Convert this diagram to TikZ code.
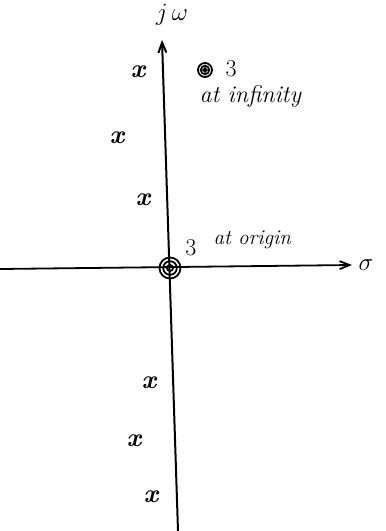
\documentclass[tikz,border=0pt]{standalone}
\usepackage{amsmath, amssymb}
\usepackage{tikz}
\usetikzlibrary{positioning,arrows.meta}

\begin{document}
\begin{tikzpicture}[x=1pt, y=-1pt, >={Straight Barb[length=10pt,width=8pt]},
    every node/.style={font=\fontsize{24}{26}\selectfont\itshape},
    pole/.style={inner sep=0pt, font=\fontsize{26}{26}\selectfont\bfseries\itshape}]
      \useasboundingbox (0,0) rectangle (386,531);

      % axes
      \coordinate (o) at (170,268);
      \coordinate (ybot) at (178,531);
      \coordinate (ytop) at (162,40);
      \coordinate (xleft) at (0,269);
      \coordinate (xright) at (352,265);
      \draw[->, line width=2pt] (ybot) -- (ytop);
      \draw[->, line width=1.8pt] (xleft) -- (xright);
      \node (jw) at (172,15) {\fontsize{28}{28}\selectfont$j\,\omega$};
      \node (sig) at (366,265) {\fontsize{28}{28}\selectfont$\sigma$};

      % zeros
      \draw[line width=1.8pt] (o) circle (10.5) (o) circle (6.8) (o) circle (3);
      \coordinate (zinf) at (205,70);
      \draw[line width=1.8pt] (zinf) circle (7) (zinf) circle (4.2) (zinf) circle (1.6);
      \node[anchor=west] (n3) at (222,69) {\upshape 3};
      \node[anchor=west] (inf) at (196,96) {at infinity};
      \node (n3o) at (191,248) {\upshape 3};
      \node[anchor=west] (orig) at (210,240) {\fontsize{21}{22}\selectfont at origin};

      % poles
      \node[pole] (p1) at (138,72) {x};
      \node[pole] (p2) at (117,138) {x};
      \node[pole] (p3) at (143,200) {x};
      \node[pole] (p4) at (149,383) {x};
      \node[pole] (p5) at (134,441) {x};
      \node[pole] (p6) at (151,497) {x};
\end{tikzpicture}
\end{document}
